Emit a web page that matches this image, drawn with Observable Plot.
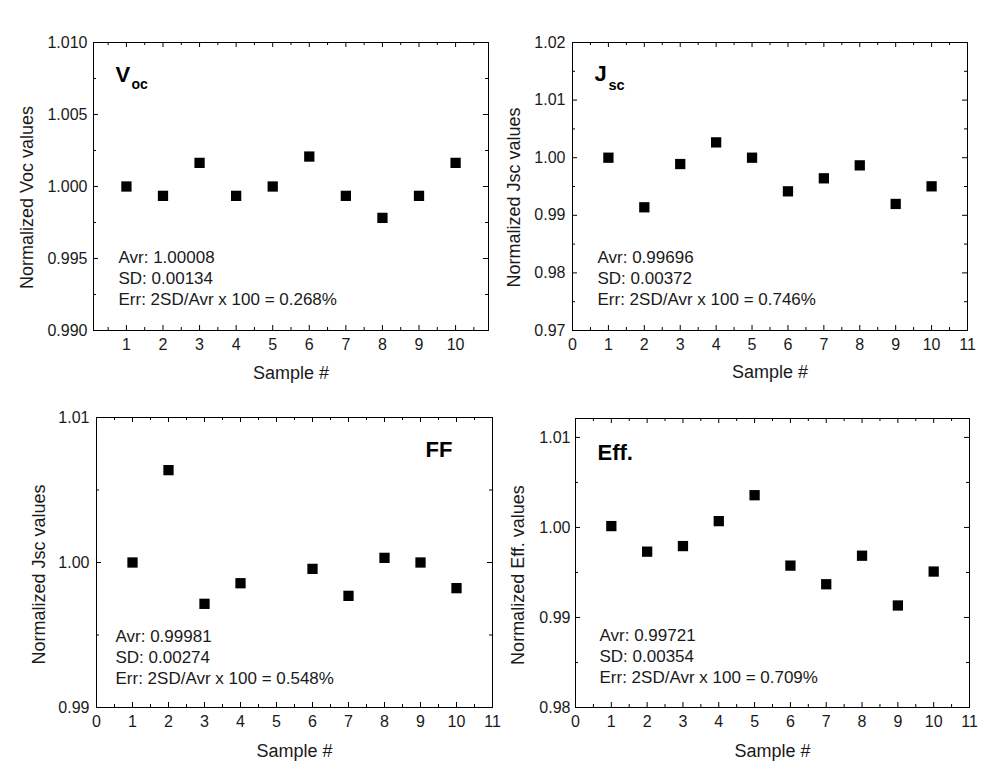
<!DOCTYPE html>
<html>
<head>
<meta charset="utf-8">
<script src="https://cdn.jsdelivr.net/npm/d3@7"></script>
<script src="https://cdn.jsdelivr.net/npm/@observablehq/plot@0.6"></script>
<style>
  body { margin: 0; background: #fff; }
  #chart { position: relative; width: 991px; height: 774px; background: #fff; font-family: "Liberation Sans", Arial, sans-serif; }
  #chart > div { position: absolute; }
</style>
</head>
<body>
<div id="chart"></div>
<script>
// ---- data ----
const samples = [1, 2, 3, 4, 5, 6, 7, 8, 9, 10];
const vocValues = [1.0000, 0.99935, 1.00164, 0.99935, 1.0000, 1.00208, 0.99935, 0.99782, 0.99935, 1.00164];
const jscValues = [1.0000, 0.99139, 0.99890, 1.00266, 1.0000, 0.99416, 0.99642, 0.99867, 0.99197, 0.99503];
const ffSamples = [1, 2, 3, 4, 6, 7, 8, 9, 10];
const ffValues = [1.0000, 1.00637, 0.99715, 0.99857, 0.99956, 0.99770, 1.00032, 1.0000, 0.99823];
const effValues = [1.00015, 0.99731, 0.99793, 1.00070, 1.00358, 0.99576, 0.99369, 0.99686, 0.99133, 0.99510];

const xLabel = "Sample #";
const yLabels = ["Normalized Voc values", "Normalized Jsc values", "Normalized Jsc values", "Normalized Eff. values"];
const statsTexts = [
  "Avr: 1.00008\nSD: 0.00134\nErr: 2SD/Avr x 100 = 0.268%",
  "Avr: 0.99696\nSD: 0.00372\nErr: 2SD/Avr x 100 = 0.746%",
  "Avr: 0.99981\nSD: 0.00274\nErr: 2SD/Avr x 100 = 0.548%",
  "Avr: 0.99721\nSD: 0.00354\nErr: 2SD/Avr x 100 = 0.709%"
];

// tick values
const xTicksVoc = [1, 2, 3, 4, 5, 6, 7, 8, 9, 10];
const xTicksAll = [0, 1, 2, 3, 4, 5, 6, 7, 8, 9, 10, 11];
const xMinorTicks = [0.5, 1.5, 2.5, 3.5, 4.5, 5.5, 6.5, 7.5, 8.5, 9.5, 10.5];
const yTicksVoc = [0.990, 0.995, 1.000, 1.005, 1.010];
const yMinorVoc = [0.9925, 0.9975, 1.0025, 1.0075];
const yTicksJsc = [0.97, 0.98, 0.99, 1.00, 1.01, 1.02];
const yMinorJsc = [0.975, 0.985, 0.995, 1.005, 1.015];
const yTicksFF = [0.99, 1.00, 1.01];
const yMinorFF = [0.995, 1.005];
const yTicksEff = [0.98, 0.99, 1.00, 1.01];
const yMinorEff = [0.985, 0.995, 1.005];

const FONT = "Liberation Sans, Arial, sans-serif";
const INK = "#1a1a1a";

function panel(cfg) {
  const fw = cfg.width - cfg.ml - cfg.mr;
  const fh = cfg.height - cfg.mt - cfg.mb;
  const data = cfg.x.map((x, i) => ({x, y: cfg.y[i]}));
  const major = 5, minor = 3;
  const marks = [
    Plot.frame({stroke: "#000", strokeWidth: 1}),
    // inward ticks on all four sides
    Plot.tickX(cfg.xMajor, {x: d => d, insetTop: fh - major, stroke: "#000"}),
    Plot.tickX(cfg.xMajor, {x: d => d, insetBottom: fh - major, stroke: "#000"}),
    Plot.tickX(cfg.xMinor, {x: d => d, insetTop: fh - minor, stroke: "#000"}),
    Plot.tickX(cfg.xMinor, {x: d => d, insetBottom: fh - minor, stroke: "#000"}),
    Plot.tickY(cfg.yMajor, {y: d => d, insetRight: fw - major, stroke: "#000"}),
    Plot.tickY(cfg.yMajor, {y: d => d, insetLeft: fw - major, stroke: "#000"}),
    Plot.tickY(cfg.yMinor, {y: d => d, insetRight: fw - minor, stroke: "#000"}),
    Plot.tickY(cfg.yMinor, {y: d => d, insetLeft: fw - minor, stroke: "#000"}),
    Plot.axisX(cfg.xMajor, {tickSize: 0, tickPadding: 8, label: null, fontSize: 16, fill: INK}),
    Plot.axisY(cfg.yMajor, {tickSize: 0, tickPadding: cfg.yPad, label: null, tickFormat: d3.format(cfg.yFmt), fontSize: 16, fill: INK}),
    Plot.dot(data, {x: "x", y: "y", symbol: "square", r: 5.8, fill: "#000", stroke: null}),
    // axis titles
    Plot.text([xLabel], {frameAnchor: "bottom", textAnchor: "middle", dy: cfg.xlDy, lineAnchor: "middle", fontSize: 18, fill: INK}),
    Plot.text([cfg.yLabel], {frameAnchor: "left", textAnchor: "middle", rotate: -90, dx: cfg.ylDx, dy: cfg.ylDy, lineAnchor: "middle", fontSize: 18, fill: INK}),
    // stats block
    Plot.text([cfg.stats], {frameAnchor: "bottom-left", textAnchor: "start", lineAnchor: "bottom", lineHeight: 1.21, dx: cfg.stDx, dy: cfg.stDy, fontSize: 17, fill: INK}),
    // panel label
    ...cfg.labelMarks
  ];
  const svg = Plot.plot({
    width: cfg.width,
    height: cfg.height,
    marginLeft: cfg.ml,
    marginRight: cfg.mr,
    marginTop: cfg.mt,
    marginBottom: cfg.mb,
    style: {fontFamily: FONT, fontSize: "16px", color: INK, background: "transparent", overflow: "visible"},
    x: {domain: cfg.xDomain},
    y: {domain: cfg.yDomain},
    marks
  });
  const wrap = document.createElement("div");
  wrap.style.left = cfg.left + "px";
  wrap.style.top = cfg.top + "px";
  wrap.appendChild(svg);
  document.getElementById("chart").appendChild(wrap);
}

const bold = {fontWeight: "bold", fill: "#000"};

panel({
  left: 0, top: 0, width: 495, height: 395, ml: 93, mr: 7, mt: 42, mb: 65,
  x: samples, y: vocValues, xDomain: [0.1, 10.9], yDomain: [0.990, 1.010],
  xMajor: xTicksVoc, xMinor: xMinorTicks, yMajor: yTicksVoc, yMinor: yMinorVoc, yFmt: ".3f", yPad: 6,
  yLabel: yLabels[0], xlDy: 43, ylDx: -66, ylDy: 11,
  stats: statsTexts[0], stDx: 25, stDy: -26,
  labelMarks: [
    Plot.text(["V"], {frameAnchor: "top-left", textAnchor: "start", lineAnchor: "bottom", dx: 22, dy: 39, fontSize: 22, ...bold}),
    Plot.text(["oc"], {frameAnchor: "top-left", textAnchor: "start", lineAnchor: "bottom", dx: 38, dy: 46.5, fontSize: 14, ...bold})
  ]
});

panel({
  left: 495, top: 0, width: 496, height: 395, ml: 77, mr: 24, mt: 42, mb: 65,
  x: samples, y: jscValues, xDomain: [0, 11], yDomain: [0.97, 1.02],
  xMajor: xTicksAll, xMinor: xMinorTicks, yMajor: yTicksJsc, yMinor: yMinorJsc, yFmt: ".2f", yPad: 7,
  yLabel: yLabels[1], xlDy: 42, ylDx: -58, ylDy: 11,
  stats: statsTexts[1], stDx: 25, stDy: -26,
  labelMarks: [
    Plot.text(["J"], {frameAnchor: "top-left", textAnchor: "start", lineAnchor: "bottom", dx: 22, dy: 38, fontSize: 22, ...bold}),
    Plot.text(["sc"], {frameAnchor: "top-left", textAnchor: "start", lineAnchor: "bottom", dx: 36, dy: 47, fontSize: 14.5, ...bold})
  ]
});

panel({
  left: 0, top: 395, width: 495, height: 379, ml: 96, mr: 3, mt: 22, mb: 67,
  x: ffSamples, y: ffValues, xDomain: [0, 11], yDomain: [0.99, 1.01],
  xMajor: xTicksAll, xMinor: xMinorTicks, yMajor: yTicksFF, yMinor: yMinorFF, yFmt: ".2f", yPad: 7,
  yLabel: yLabels[2], xlDy: 44, ylDx: -57, ylDy: 12,
  stats: statsTexts[2], stDx: 19, stDy: -24,
  labelMarks: [
    Plot.text(["FF"], {frameAnchor: "top-right", textAnchor: "end", lineAnchor: "bottom", dx: -40, dy: 39, fontSize: 22, ...bold})
  ]
});

panel({
  left: 495, top: 395, width: 496, height: 379, ml: 80, mr: 22, mt: 23, mb: 67,
  x: samples, y: effValues, xDomain: [0, 11], yDomain: [0.98, 1.0121],
  xMajor: xTicksAll, xMinor: xMinorTicks, yMajor: yTicksEff, yMinor: yMinorEff, yFmt: ".2f", yPad: 5,
  yLabel: yLabels[3], xlDy: 44, ylDx: -57, ylDy: 12,
  stats: statsTexts[3], stDx: 24, stDy: -25,
  labelMarks: [
    Plot.text(["Eff."], {frameAnchor: "top-left", textAnchor: "start", lineAnchor: "bottom", dx: 22, dy: 41, fontSize: 22, ...bold})
  ]
});
</script>
</body>
</html>
